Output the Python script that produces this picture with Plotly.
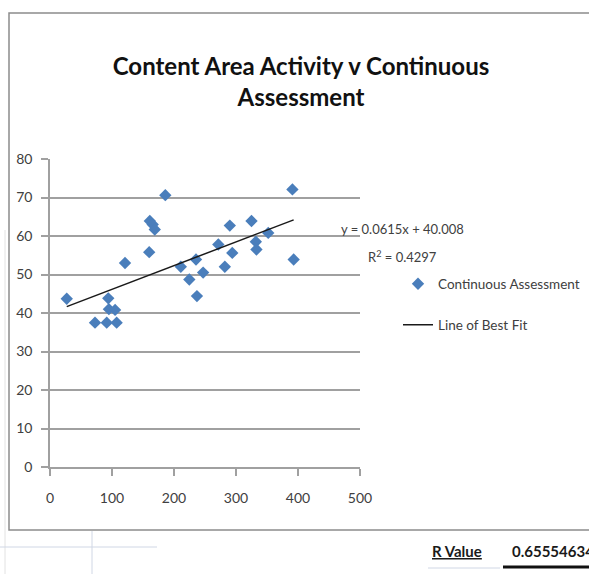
import plotly.graph_objects as go

# ---- data ----
activity = [27, 72.6, 91.5, 94, 95, 105, 107.5, 121, 160, 161, 165.6, 169, 186,
            211, 224.7, 235.5, 237, 247, 271.5, 282, 290, 294, 325, 332, 333,
            352, 391, 393]
assessment = [43.7, 37.5, 37.5, 43.8, 41.0, 40.8, 37.5, 53.0, 55.8, 63.9, 63.0,
              61.7, 70.6, 52.0, 48.7, 53.9, 44.4, 50.5, 57.8, 52.0, 62.7, 55.6,
              63.9, 58.5, 56.5, 60.8, 72.1, 53.9]
slope = 0.0615
intercept = 40.008
r_squared = 0.4297
r_value = 0.65554634
x_ticks = [0, 100, 200, 300, 400, 500]
y_ticks = [0, 10, 20, 30, 40, 50, 60, 70, 80]

title_text = "Content Area Activity v Continuous<br>Assessment"
series_name = "Continuous Assessment"
fit_name = "Line of Best Fit"

FONT = "Lato, Liberation Sans, sans-serif"
TXT = "#404040"
GRID = "#a0a0a0"

fit_x = [min(activity), max(activity)]
fit_y = [slope * v + intercept for v in fit_x]

fig = go.Figure()
fig.add_trace(go.Scatter(
    x=activity, y=assessment, mode="markers", name=series_name,
    marker=dict(symbol="diamond", size=9.5, color="#4a7ebb"),
    legend="legend", cliponaxis=False, showlegend=True))
fig.add_trace(go.Scatter(
    x=fit_x, y=fit_y, mode="lines", name=fit_name,
    line=dict(color="#1a1a1a", width=1.5), legend="legend2", showlegend=True))

W, H = 589, 574
# plot area in page pixels: x 50..360, y 159..467
PX0, PX1, PY0, PY1 = 50, 360, 159, 467
L, T, R, B = PX0, PY0, W - PX1, H - PY1
pw, ph = PX1 - PX0, PY1 - PY0


def px(xp):
    return (xp - PX0) / pw


def py(yp):
    return (PY1 - yp) / ph


shapes = [
    # chart frame
    dict(type="rect", xref="paper", yref="paper", x0=px(9), x1=px(620),
         y0=py(530), y1=py(13), line=dict(color="#8c8c8c", width=1.5)),
    # spreadsheet cell lines outside the chart
    dict(type="line", xref="paper", yref="paper", x0=px(5), x1=px(5),
         y0=py(230), y1=py(580), line=dict(color="#e2e2e2", width=1)),
    dict(type="line", xref="paper", yref="paper", x0=px(0), x1=px(157),
         y0=py(547), y1=py(547), line=dict(color="#d0d7e5", width=1)),
    dict(type="line", xref="paper", yref="paper", x0=px(92), x1=px(92),
         y0=py(531), y1=py(580), line=dict(color="#d0d7e5", width=1)),
    dict(type="line", xref="paper", yref="paper", x0=px(428), x1=px(500),
         y0=py(568), y1=py(568), line=dict(color="#d0d7e5", width=1)),
    dict(type="line", xref="paper", yref="paper", x0=px(503), x1=px(620),
         y0=py(567), y1=py(567), line=dict(color="#111111", width=3)),
]

annotations = [
    dict(xref="paper", yref="paper", x=px(402), y=py(229), xanchor="center",
         yanchor="middle", text=f"y = {slope}x + {intercept}", showarrow=False,
         font=dict(family=FONT, size=13, color=TXT)),
    dict(xref="paper", yref="paper", x=px(402), y=py(256), xanchor="center",
         yanchor="middle", text=f"R<sup>2</sup> = {r_squared}", showarrow=False,
         font=dict(family=FONT, size=13, color=TXT)),
    dict(xref="paper", yref="paper", x=px(457), y=py(551), xanchor="center",
         yanchor="middle", text="<b><u>R Value</u></b>", showarrow=False,
         font=dict(family=FONT, size=15, color="#1a1a1a")),
    dict(xref="paper", yref="paper", x=px(510), y=py(551), xanchor="left",
         yanchor="middle", text=f"<b>{r_value}</b>", showarrow=False,
         font=dict(family=FONT, size=15, color="#1a1a1a")),
]

fig.update_layout(
    width=W, height=H, autosize=False, showlegend=True,
    margin=dict(l=L, r=R, t=T, b=B, pad=0, autoexpand=False),
    paper_bgcolor="white", plot_bgcolor="white",
    font=dict(family=FONT, size=14, color=TXT),
    title=dict(text=f"<b>{title_text}</b>", xref="container", yref="container",
               x=301 / W, xanchor="center", y=1 - 75 / H,
               yanchor="middle", automargin=False,
               font=dict(family=FONT, size=24, color="#111111")),
    xaxis=dict(range=[0, 500], tickvals=x_ticks, showgrid=False, zeroline=False,
               showline=True, linecolor=GRID, linewidth=1.5,
               ticks="outside", ticklen=7, tickcolor=GRID, tickwidth=1.5,
               ticklabelstandoff=10, tickfont=dict(size=14, color=TXT),
               fixedrange=True, automargin=False),
    yaxis=dict(range=[0, 80], tickvals=y_ticks, showgrid=True, gridcolor=GRID,
               gridwidth=1.5, zeroline=False, showline=True, linecolor=GRID,
               linewidth=1.5, ticks="outside", ticklen=7, tickcolor=GRID,
               tickwidth=1.5, ticklabelstandoff=6,
               tickfont=dict(size=14, color=TXT), fixedrange=True,
               automargin=False),
    legend=dict(x=px(398), y=py(284), xanchor="left", yanchor="middle",
                bgcolor="rgba(0,0,0,0)", borderwidth=0,
                font=dict(family=FONT, size=13.5, color=TXT)),
    legend2=dict(x=px(398), y=py(325), xanchor="left", yanchor="middle",
                 bgcolor="rgba(0,0,0,0)", borderwidth=0,
                 font=dict(family=FONT, size=13.5, color=TXT)),
    shapes=shapes,
    annotations=annotations,
)

fig.write_html(
    "out.html",
    config={"displayModeBar": False},
    post_script="document.body.style.margin='0';"
                "document.body.style.overflow='hidden';",
)
